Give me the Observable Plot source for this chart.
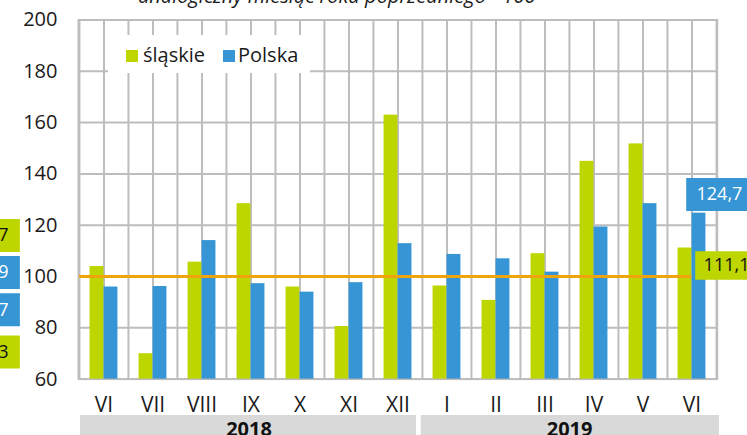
<!DOCTYPE html>
<html><head><meta charset="utf-8">
<script src="https://cdn.jsdelivr.net/npm/d3@7"></script>
<script src="https://cdn.jsdelivr.net/npm/@observablehq/plot@0.6"></script>
<style>
html,body{margin:0;padding:0;overflow:hidden;background:#fff;width:747px;height:435px}
#wrap{position:relative;width:747px;height:435px;overflow:hidden;font-family:"Open Sans",sans-serif;color:#1a1a1a}
#chart{position:absolute;left:0;top:0}
#title{position:absolute;left:138px;top:-14px;font-style:italic;font-size:20px;line-height:20px;white-space:nowrap}
#legend{position:absolute;left:108px;top:35px;width:202px;height:38px;background:#fff}
.sw{position:absolute;width:12px;height:12px;top:15px}
.lt{position:absolute;top:10px;font-size:20px;line-height:20px;white-space:nowrap}
</style></head>
<body><div id="wrap"><div id="chart"></div><div id="title"></div><div id="legend"></div></div>
<script>
const titleText = "analogiczny miesiąc roku poprzedniego =100";
const months = ["VI","VII","VIII","IX","X","XI","XII","I","II","III","IV","V","VI"];
const monthYears = ["2018","2018","2018","2018","2018","2018","2018","2019","2019","2019","2019","2019","2019"];
const seriesNames = ["śląskie","Polska"];
const slaskie = [103.9, 69.9, 105.6, 128.4, 95.9, 80.5, 162.9, 96.3, 90.7, 108.9, 144.9, 151.7, 111.1];
const polska  = [95.9, 96.1, 114.0, 97.2, 93.9, 97.6, 112.8, 108.6, 106.9, 101.7, 119.3, 128.4, 124.7];
const yTicks = [60, 80, 100, 120, 140, 160, 180, 200];
const years = ["2018","2019"];
const reference = 100;
// end-of-series labels (text, series, label position value)
const endLabels = [
  {text: "124,7", series: "Polska", pos: 132.0},
  {text: "111,1", series: "śląskie", pos: 104.3}
];
// partially visible labels at the left edge (cut off in the reference)
const leftLabels = [
  {text: "113,7", series: "śląskie", pos: 116.0},
  {text: "104,9", series: "Polska", pos: 101.6},
  {text: "98,7", series: "Polska", pos: 87.0},
  {text: "86,3", series: "śląskie", pos: 70.6}
];

const GREEN = "#bed600", BLUE = "#3595d5", ORANGE = "#efa40c", GRID = "#bdbdbd", BAND = "#d9d9d9";
const colorOf = {"śląskie": GREEN, "Polska": BLUE};

const keys = months.map((m, i) => m + " " + monthYears[i]);
const data = keys.map((k, i) => ({key: k, month: months[i], slaskie: slaskie[i], polska: polska[i]}));
const lastKey = keys[keys.length - 1];
const firstKey = keys[0];

const W = 747, H = 450, ML = 78, MR = 30.3, MT = 19.5, MB = H - 378.6;
const bw = (W - ML - MR) / keys.length;
const half = bw / 2;

const firstOf = y => keys[monthYears.indexOf(y)];
const lastOf = y => keys[monthYears.lastIndexOf(y)];
const midOf = y => { const a = monthYears.indexOf(y), b = monthYears.lastIndexOf(y); return keys[Math.floor((a + b) / 2)]; };
const midDx = y => { const a = monthYears.indexOf(y), b = monthYears.lastIndexOf(y); return ((a + b) % 2) ? half : -2; };
const bySeries = (arr, s) => arr.filter(d => d.series === s);

document.getElementById("title").textContent = titleText;

const plot = Plot.plot({
  width: W, height: H,
  marginLeft: ML, marginRight: MR, marginTop: MT, marginBottom: MB,
  style: {fontFamily: "'Open Sans', sans-serif", fontSize: "20px", color: "#1a1a1a", background: "white"},
  x: {domain: keys, padding: 0},
  y: {domain: [60, 200]},
  marks: [
    Plot.ruleY(yTicks, {stroke: GRID, strokeWidth: 2}),
    Plot.ruleX(keys, {x: d => d, stroke: GRID, strokeWidth: 2}),
    Plot.ruleX(keys, {x: d => d, dx: -half, stroke: GRID, strokeWidth: 2}),
    Plot.ruleX([lastKey], {x: d => d, dx: half, stroke: GRID, strokeWidth: 2}),
    Plot.frame({stroke: GRID, strokeWidth: 2}),
    Plot.barY(data, {x: "key", y1: 60, y2: "slaskie", fill: GREEN, insetLeft: half - 14, insetRight: half}),
    Plot.barY(data, {x: "key", y1: 60, y2: "polska", fill: BLUE, insetLeft: half, insetRight: half - 14}),
    Plot.ruleY([reference], {x1: () => firstKey, x2: () => lastKey, insetRight: half, stroke: ORANGE, strokeWidth: 3}),
    Plot.axisY({ticks: yTicks, tickSize: 0, tickPadding: 21, fontSize: 20, tickFormat: d => String(d)}),
    Plot.axisX({tickSize: 0, tickPadding: 18, fontSize: 21, tickFormat: k => k.split(" ")[0]}),
    // year bands under the month labels
    Plot.ruleY([60], {x1: () => firstOf("2018"), x2: () => lastOf("2018"), dy: 47, strokeWidth: 22, stroke: BAND, insetLeft: 1, insetRight: 6}),
    Plot.ruleY([60], {x1: () => firstOf("2019"), x2: () => lastOf("2019"), dy: 47, strokeWidth: 22, stroke: BAND, insetLeft: -1.3, insetRight: -3}),
    ...years.map(yr => Plot.text([yr], {x: () => midOf(yr), y: () => 60, text: d => d, dy: 50.5, dx: midDx(yr), fontWeight: "bold", fontSize: 20, fill: "#111"})),
    // label boxes (drawn as thick rules)
    Plot.ruleY(bySeries(endLabels, "Polska"), {y: "pos", x1: () => lastKey, x2: () => lastKey, insetLeft: 19.2, insetRight: -40, stroke: BLUE, strokeWidth: 33}),
    Plot.ruleY(bySeries(endLabels, "śląskie"), {y: "pos", x1: () => lastKey, x2: () => lastKey, insetLeft: 28.2, insetRight: -40, stroke: GREEN, strokeWidth: 28.5}),
    Plot.ruleY(bySeries(leftLabels, "Polska"), {y: "pos", x1: () => firstKey, x2: () => firstKey, insetLeft: -95, insetRight: bw + ML - 19, stroke: BLUE, strokeWidth: 33}),
    Plot.ruleY(bySeries(leftLabels, "śląskie"), {y: "pos", x1: () => firstKey, x2: () => firstKey, insetLeft: -95, insetRight: bw + ML - 19, stroke: GREEN, strokeWidth: 33}),
    // label texts
    Plot.text(bySeries(endLabels, "Polska"), {x: () => lastKey, y: "pos", text: "text", textAnchor: "start", dx: 4.5, fontSize: 18, fill: "#fff"}),
    Plot.text(bySeries(endLabels, "śląskie"), {x: () => lastKey, y: "pos", text: "text", textAnchor: "start", dx: 11.6, fontSize: 18, fill: "#111"}),
    Plot.text(bySeries(leftLabels, "Polska"), {frameAnchor: "left", y: "pos", text: "text", textAnchor: "end", dx: -70, fontSize: 18, fill: "#fff"}),
    Plot.text(bySeries(leftLabels, "śląskie"), {frameAnchor: "left", y: "pos", text: "text", textAnchor: "end", dx: -70, fontSize: 18, fill: "#111"})
  ]
});
document.getElementById("chart").appendChild(plot);

// legend
const leg = document.getElementById("legend");
const legPos = [{sw: 18, tx: 35}, {sw: 114.7, tx: 130}];
seriesNames.forEach((s, i) => {
  const sw = document.createElement("div");
  sw.className = "sw"; sw.style.left = legPos[i].sw + "px"; sw.style.background = colorOf[s];
  const tx = document.createElement("div");
  tx.className = "lt"; tx.style.left = legPos[i].tx + "px"; tx.textContent = s;
  leg.appendChild(sw); leg.appendChild(tx);
});
</script></body></html>
